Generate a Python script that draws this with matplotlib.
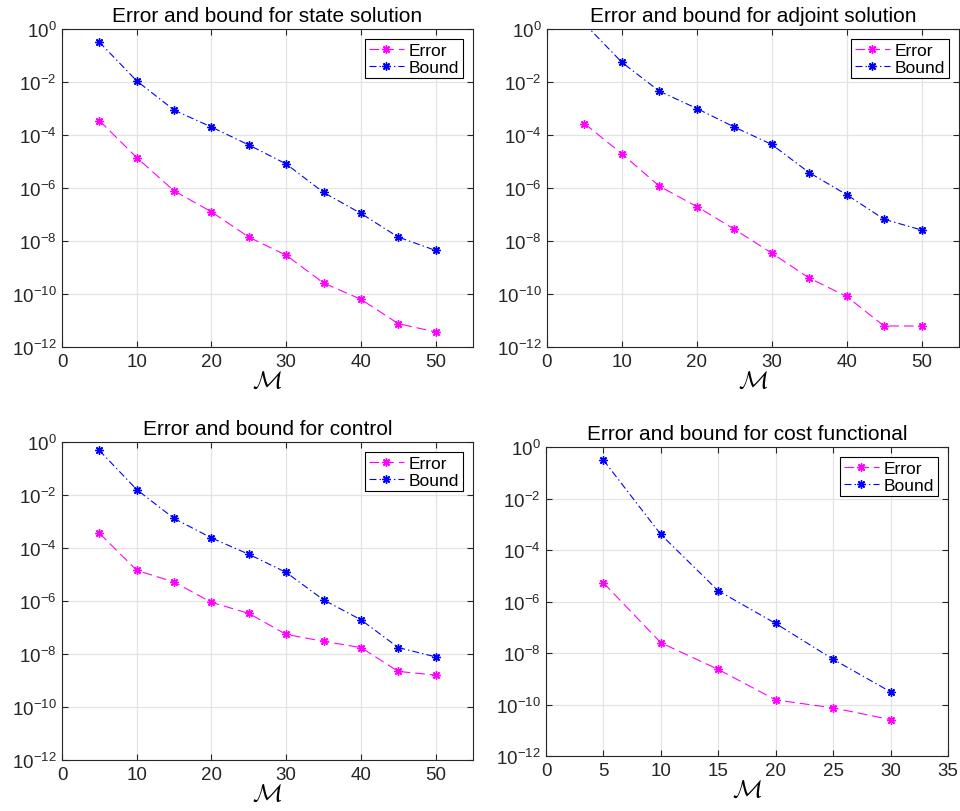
import matplotlib
matplotlib.use('Agg')
import matplotlib.pyplot as plt
import matplotlib.ticker as mticker
import numpy as np

plt.rcParams['font.family'] = ['Liberation Sans', 'DejaVu Sans']
plt.rcParams['mathtext.fontset'] = 'custom'
plt.rcParams['mathtext.rm'] = 'Liberation Sans'
plt.rcParams['mathtext.cal'] = 'cmsy10'
plt.rcParams['lines.scale_dashes'] = False

# data
M = [5, 10, 15, 20, 25, 30, 35, 40, 45, 50]
M_cost = [5, 10, 15, 20, 25, 30]

state_err = [3.5e-4, 1.4e-5, 7.8e-7, 1.26e-7, 1.4e-8, 2.9e-9, 2.6e-10, 6.3e-11, 7.6e-12, 3.7e-12]
state_bnd = [0.32, 1.1e-2, 8.7e-4, 2.0e-4, 4.2e-5, 8.1e-6, 6.8e-7, 1.1e-7, 1.4e-8, 4.4e-9]

adj_err = [2.7e-4, 1.95e-5, 1.17e-6, 2.0e-7, 2.8e-8, 3.5e-9, 4.0e-10, 8.1e-11, 6.2e-12, 6.2e-12]
adj_bnd = [1.6, 5.5e-2, 4.5e-3, 1.0e-3, 2.0e-4, 4.4e-5, 3.8e-6, 5.6e-7, 6.6e-8, 2.6e-8]

ctrl_err = [3.6e-4, 1.44e-5, 5.2e-6, 8.9e-7, 3.4e-7, 5.5e-8, 3.0e-8, 1.75e-8, 2.2e-9, 1.6e-9]
ctrl_bnd = [0.48, 1.6e-2, 1.3e-3, 2.4e-4, 5.8e-5, 1.2e-5, 1.1e-6, 1.96e-7, 1.75e-8, 7.8e-9]

cost_err = [5.3e-6, 2.5e-8, 2.3e-9, 1.5e-10, 7.4e-11, 2.6e-11]
cost_bnd = [0.31, 4.0e-4, 2.6e-6, 1.4e-7, 5.7e-9, 3.1e-10]

titles = ['Error and bound for state solution', 'Error and bound for adjoint solution',
          'Error and bound for control', 'Error and bound for cost functional']

# asterisk marker like matlab '*'
star = (8, 2, 0)

fig = plt.figure(figsize=(9.6, 8.12), dpi=100)
W, H = 960.0, 812.0
# [left, top, right, bottom] in pixels
boxes = [(62, 30, 473, 348), (547, 30, 959, 348),
         (62, 443, 473, 761), (546, 448, 948, 757)]
series = [(M, state_err, state_bnd), (M, adj_err, adj_bnd),
          (M, ctrl_err, ctrl_bnd), (M_cost, cost_err, cost_bnd)]

for i in range(4):
    l, t, r, b = boxes[i]
    ax = fig.add_axes([l / W, 1 - b / H, (r - l) / W, (b - t) / H])
    x, err, bnd = series[i]
    ax.semilogy(x, err, color='#ff00ff', marker=star, markersize=6, lw=0.8,
                dashes=(7, 3.6), label='Error')
    ax.semilogy(x, bnd, color='#0000ff', marker=star, markersize=6, lw=0.8,
                dashes=(5, 2.2, 1, 2.2), label='Bound')
    ax.set_ylim(1e-12, 1e0)
    if i == 3:
        ax.set_xlim(0, 35)
        ax.set_xticks(range(0, 36, 5))
    else:
        ax.set_xlim(0, 55)
        ax.set_xticks(range(0, 51, 10))
    ax.yaxis.set_major_locator(mticker.FixedLocator([10.0 ** k for k in range(-12, 1, 2)]))
    ax.yaxis.set_minor_locator(mticker.NullLocator())
    ax.set_yticklabels([r'10$^{\mathrm{%d}}$' % k for k in range(-12, 1, 2)])
    ax.grid(True, color='#e3e3e3', lw=0.9)
    ax.set_axisbelow(True)
    ax.tick_params(direction='in', top=True, right=True, labelsize=13.5, length=4,
                   colors='#262626', labelcolor='#262626', pad=4)
    for s in ax.spines.values():
        s.set_color('#262626')
        s.set_linewidth(0.8)
    ax.set_title(titles[i], fontsize=15, pad=6)
    ax.set_xlabel(r'$\mathcal{M}$', fontsize=18, labelpad=-1)
    leg = ax.legend(loc='upper right', fontsize=12.5, fancybox=False, framealpha=1,
                    edgecolor='black', borderpad=0.2, handlelength=2.0,
                    handletextpad=0.3, labelspacing=0.1, borderaxespad=0.6)
    leg.get_frame().set_linewidth(0.8)

plt.savefig('out.png', dpi=100)
